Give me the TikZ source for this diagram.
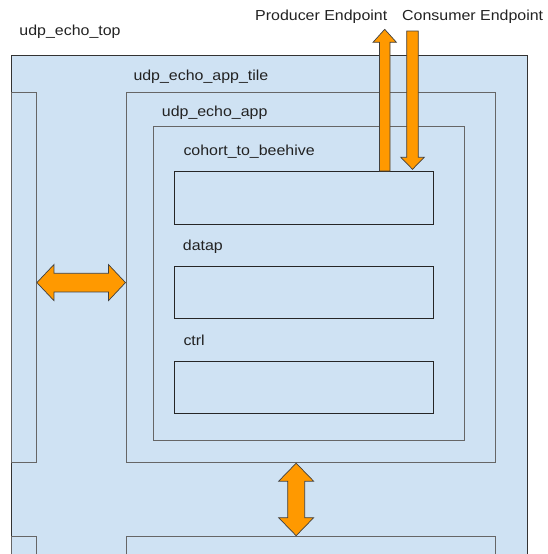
\documentclass[tikz,border=0pt]{standalone}
\usepackage{fontspec}
\setmainfont{Liberation Sans}[FakeStretch=1.1]
\usetikzlibrary{calc,positioning}

\definecolor{boxblue}{HTML}{CFE2F3}
\definecolor{arroworange}{HTML}{FF9900}
\definecolor{labelgray}{HTML}{222222}

\tikzstyle{cblock} = [fill=boxblue, draw=black!80, line width=1.2pt, anchor=north west, inner sep=0pt]
\tikzstyle{cinner} = [cblock, draw=black!60]
\tikzstyle{csub}   = [cblock, draw=black!85]
\tikzstyle{carrow} = [fill=arroworange, draw=black!75, line width=0.7pt, line join=miter]
\tikzstyle{clabel} = [anchor=base west, inner sep=0pt, text=labelgray, font=\fontsize{14.5}{16}\selectfont]

\def\dharrow#1#2{
  \filldraw[carrow] (#1) -- ++(17,-18) -- ++(0,8.7) -- ($(#2)+(-17,-9.3)$) -- ++(0,-8.7) -- (#2)
    -- ++(-17,18) -- ++(0,-8.7) -- ($(#1)+(17,9.3)$) -- ++(0,8.7) -- cycle;
}
\def\dvarrow#1#2{
  \filldraw[carrow] (#1) -- ++(17.5,18) -- ++(-9,0) -- ($(#2)+(8.5,-18)$) -- ++(9,0) -- (#2)
    -- ++(-17.5,-18) -- ++(9,0) -- ($(#1)+(-8.5,18)$) -- ++(-9,0) -- cycle;
}
\def\outarrow#1#2{
  \filldraw[carrow] ($(#1)+(-5.3,0)$) -- ($(#2)+(-5.3,13)$) -- ++(-6.4,0) -- (#2)
    -- ++(11.7,13) -- ++(-6.4,0) -- ($(#1)+(5.3,0)$) -- cycle;
}
\def\inarrow#1#2{
  \filldraw[carrow] ($(#1)+(-5.8,0)$) -- ($(#2)+(-5.8,-12)$) -- ++(-5.9,0) -- (#2)
    -- ++(11.7,-12) -- ++(-5.9,0) -- ($(#1)+(5.8,0)$) -- cycle;
}

\begin{document}
\begin{tikzpicture}[x=1pt, y=-1pt]
    \useasboundingbox (0,0) rectangle (548,554);
    \clip (0,0) rectangle (548,554);

    % blocks
    \node[cblock, minimum width=515.5pt, minimum height=600pt] (top)    at (11,55)      {};
    \node[cinner, minimum width=24.7pt,  minimum height=370pt] (leftA)  at (11,92)      {};
    \node[cinner, minimum width=24.7pt,  minimum height=100pt] (leftB)  at (11,535.7)   {};
    \node[cinner, minimum width=369.5pt, minimum height=370pt] (tile)   at (125.5,92)   {};
    \node[cinner, minimum width=369.5pt, minimum height=100pt] (tileB)  at (125.5,535.7) {};
    \node[cinner, minimum width=311pt,   minimum height=314.5pt] (app)  at (153,125.5)  {};
    \node[csub,   minimum width=258.7pt, minimum height=52.7pt] (cohort) at (174,171)   {};
    \node[csub,   minimum width=258.7pt, minimum height=52pt]   (datap)  at (174,266)   {};
    \node[csub,   minimum width=258.7pt, minimum height=52.5pt] (ctrl)   at (174,360.5) {};

    % labels
    \node[clabel] (toplbl)    at (19.3,35)  {udp\_echo\_top};
    \node[clabel] (tilelbl)   at (133.3,80) {udp\_echo\_app\_tile};
    \node[clabel] (applbl)    at (161.7,116) {udp\_echo\_app};
    \node[clabel] (cohortlbl) at ($(cohort.north west)+(9.3,-16)$) {cohort\_to\_beehive};
    \node[clabel] (dataplbl)  at ($(datap.north west)+(8.7,-16)$)  {datap};
    \node[clabel] (ctrllbl)   at ($(ctrl.north west)+(9.3,-15.5)$) {ctrl};
    \node[clabel] (prodlbl)   at (255,20)   {Producer Endpoint};
    \node[clabel] (conslbl)   at (402,20)   {Consumer Endpoint};

    % arrows
    \coordinate (hl) at ([yshift=-5pt]leftA.east);
    \coordinate (hr) at (tile.west |- hl);
    \dharrow{hl}{hr}
    \coordinate (vt) at ([xshift=-14.7pt]tile.south);
    \coordinate (vb) at (tileB.north -| vt);
    \dvarrow{vt}{vb}
    \coordinate (prodtip) at (384.7,29.3);
    \coordinate (prodbase) at (cohort.north -| prodtip);
    \outarrow{prodbase}{prodtip}
    \coordinate (constail) at (412.5,31);
    \coordinate (constip) at ([yshift=1.7pt]cohort.north -| constail);
    \inarrow{constail}{constip}
\end{tikzpicture}
\end{document}
